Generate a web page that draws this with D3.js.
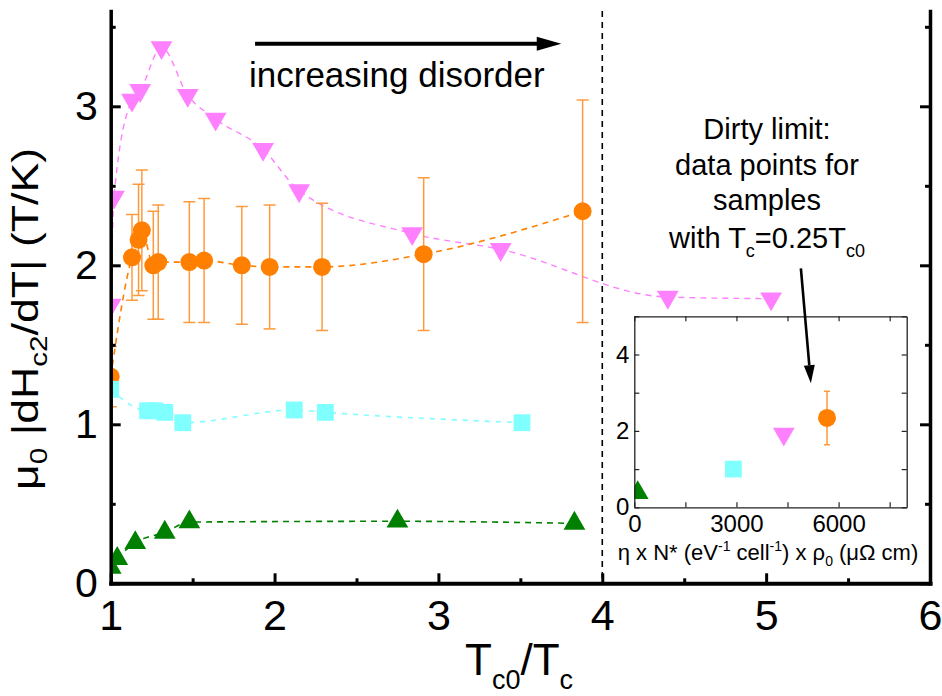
<!DOCTYPE html>
<html>
<head>
<meta charset="utf-8">
<script src="https://cdn.jsdelivr.net/npm/d3@7"></script>
<style>
  body { margin: 0; background: #fff; }
  text { font-family: "Liberation Sans", Arial, sans-serif; fill: #000; }
</style>
</head>
<body>
<svg id="chart" width="942" height="696"></svg>
<script>
// ---- data ----
// green up-triangles
const greenX = [1.00, 1.04, 1.15, 1.33, 1.48, 2.75, 3.83];
const greenY = [0.10, 0.155, 0.255, 0.32, 0.385, 0.39, 0.377];
// cyan squares
const cyanX = [1.00, 1.225, 1.27, 1.33, 1.44, 2.12, 2.31, 3.51];
const cyanY = [1.22, 1.085, 1.085, 1.075, 1.01, 1.09, 1.075, 1.01];
// magenta down-triangles
const magX = [1.00, 1.02, 1.13, 1.18, 1.31, 1.47, 1.64, 1.93, 2.15, 2.84, 3.38, 4.40, 5.03];
const magY = [1.75, 2.43, 3.04, 3.10, 3.37, 3.07, 2.92, 2.73, 2.47, 2.20, 2.10, 1.80, 1.79];
// orange circles with error bars
const orangeX = [1.00, 1.13, 1.17, 1.19, 1.26, 1.29, 1.48, 1.57, 1.80, 1.97, 2.29, 2.91, 3.88];
const orangeY = [1.30, 2.05, 2.16, 2.22, 2.00, 2.02, 2.02, 2.03, 2.00, 1.99, 1.99, 2.07, 2.34];
const orangeErr = [0.19, 0.27, 0.35, 0.38, 0.34, 0.36, 0.38, 0.39, 0.37, 0.39, 0.40, 0.48, 0.70];

// inset: one point per series (green, cyan, magenta, orange)
const insetX = [100, 2910, 4390, 5660];
const insetY = [0.38, 1.00, 1.92, 2.34];
const insetErr = [0, 0, 0, 0.70];

// axis ticks
const xMajor = [1, 2, 3, 4, 5, 6];
const xMinor = [1.5, 2.5, 3.5, 4.5, 5.5];
const yMajor = [0, 1, 2, 3];
const yMinor = [0.5, 1.5, 2.5, 3.5];
const insetXTicks = [0, 1500, 3000, 4500, 6000, 7500];
const insetXLabels = [0, 3000, 6000];
const insetYTicks = [0, 1, 2, 3, 4, 5];
const insetYLabels = [0, 2, 4];

const series = [
  { xs: magX, ys: magY, color: '#ff80ff', shape: 'down', dash: '6,5', lw: 1.4 },
  { xs: orangeX, ys: orangeY, err: orangeErr, color: '#ff8000', shape: 'circle', dash: '6,5', lw: 1.6 },
  { xs: cyanX, ys: cyanY, color: '#80ffff', shape: 'square', dash: '5,6', lw: 1.6 },
  { xs: greenX, ys: greenY, color: '#008000', shape: 'up', dash: '6,5', lw: 1.6 }
];
const insetColors = ['#008000', '#80ffff', '#ff80ff', '#ff8000'];
const insetShapes = ['up', 'square', 'down', 'circle'];

const svg = d3.select('#chart');

const x = d3.scaleLinear().domain([1, 6]).range([110.7, 930]);
const y = d3.scaleLinear().domain([0, 3.6]).range([583.3, 10.9]);

const defs = svg.append('defs');
defs.append('clipPath').attr('id', 'clipMain').append('rect')
  .attr('x', x(1)).attr('y', y(3.6))
  .attr('width', x(6) - x(1)).attr('height', y(0) - y(3.6));

function drawMarker(g, shape, cx, cy, color) {
  if (shape === 'circle') {
    g.append('circle').attr('cx', cx).attr('cy', cy).attr('r', 9).attr('fill', color);
  } else if (shape === 'square') {
    g.append('rect').attr('x', cx - 8.4).attr('y', cy - 8.4)
      .attr('width', 16.8).attr('height', 16.8).attr('fill', color);
  } else {
    g.append('path')
      .attr('d', d3.symbol(d3.symbolTriangle, 205)())
      .attr('transform', 'translate(' + cx + ',' + cy + ')' + (shape === 'down' ? ' rotate(180)' : ''))
      .attr('fill', color);
  }
}

// dashed vertical line at Tc0/Tc = 4
svg.append('line')
  .attr('x1', x(4)).attr('x2', x(4)).attr('y1', y(3.6)).attr('y2', y(0))
  .attr('stroke', '#000').attr('stroke-width', 1.6).attr('stroke-dasharray', '6,5');

const plot = svg.append('g').attr('clip-path', 'url(#clipMain)');

let line = d3.line()
  .x(d => x(d[0]))
  .y(d => y(d[1]))
  .curve(d3.curveMonotoneX);

// connecting dashed lines
series.forEach(s => {
  plot.append('path')
    .datum(s.xs.map((v, i) => [v, s.ys[i]]))
    .attr('d', line)
    .attr('fill', 'none')
    .attr('stroke', s.color)
    .attr('stroke-width', s.lw)
    .attr('stroke-dasharray', s.dash);
});

// error bars
series.filter(s => s.err).forEach(s => {
  s.xs.forEach((v, i) => {
    let g = plot.append('g').attr('stroke', '#ff9a3c').attr('stroke-width', 1.5);
    g.append('line').attr('x1', x(v)).attr('x2', x(v))
      .attr('y1', y(s.ys[i] - s.err[i])).attr('y2', y(s.ys[i] + s.err[i]));
    [s.ys[i] - s.err[i], s.ys[i] + s.err[i]].forEach(e => {
      g.append('line').attr('x1', x(v) - 6).attr('x2', x(v) + 6)
        .attr('y1', y(e)).attr('y2', y(e));
    });
  });
});

// markers
series.forEach(s => {
  s.xs.forEach((v, i) => drawMarker(plot, s.shape, x(v), y(s.ys[i]), s.color));
});

// ---- main axes ----
function styleAxis(g, width) {
  g.select('.domain').attr('stroke', '#000').attr('stroke-width', width).attr('stroke-linecap', 'square');
  g.selectAll('.tick line').attr('stroke', '#000').attr('stroke-width', 3);
}

let gx = svg.append('g').attr('transform', 'translate(0,' + y(0) + ')')
  .call(d3.axisBottom(x).tickValues(xMajor).tickSize(-10).tickSizeOuter(0).tickPadding(16)
    .tickFormat(d3.format('d')));
gx.selectAll('text').attr('font-size', 43);
styleAxis(gx, 4);
let gx2 = svg.append('g').attr('transform', 'translate(0,' + y(0) + ')')
  .call(d3.axisBottom(x).tickValues(xMinor).tickSize(-5).tickFormat(''));
gx2.select('.domain').remove();
styleAxis(gx2, 4);

let gy = svg.append('g').attr('transform', 'translate(' + x(1) + ',0)')
  .call(d3.axisLeft(y).tickValues(yMajor).tickSize(-10).tickSizeOuter(0).tickPadding(13)
    .tickFormat(d3.format('d')));
gy.selectAll('text').attr('font-size', 41);
styleAxis(gy, 3.5);
let gy2 = svg.append('g').attr('transform', 'translate(' + x(1) + ',0)')
  .call(d3.axisLeft(y).tickValues(yMinor).tickSize(-5).tickFormat(''));
gy2.select('.domain').remove();
styleAxis(gy2, 3.5);

let gr = svg.append('g').attr('transform', 'translate(' + x(6) + ',0)')
  .call(d3.axisRight(y).tickValues(yMajor).tickSize(-10).tickSizeOuter(0).tickFormat(''));
styleAxis(gr, 3.5);
let gr2 = svg.append('g').attr('transform', 'translate(' + x(6) + ',0)')
  .call(d3.axisRight(y).tickValues(yMinor).tickSize(-5).tickFormat(''));
gr2.select('.domain').remove();
styleAxis(gr2, 3.5);

// axis titles
let xl = svg.append('text').attr('x', 519).attr('y', 675).attr('text-anchor', 'middle').attr('font-size', 44);
xl.append('tspan').text('T');
xl.append('tspan').attr('font-size', 27).attr('dy', 14).text('c0');
xl.append('tspan').attr('dy', -14).text('/T');
xl.append('tspan').attr('font-size', 27).attr('dy', 14).text('c');

let yl = svg.append('text').attr('transform', 'translate(38,319) rotate(-90)')
  .attr('text-anchor', 'middle').attr('font-size', 36)
  .attr('textLength', 342).attr('lengthAdjust', 'spacingAndGlyphs');
yl.append('tspan').text('μ');
yl.append('tspan').attr('font-size', 24).attr('dy', 9).text('0');
yl.append('tspan').attr('dy', -9).text(' |dH');
yl.append('tspan').attr('font-size', 24).attr('dy', 9).text('c2');
yl.append('tspan').attr('dy', -9).text('/dT| (T/K)');

// ---- "increasing disorder" arrow ----
const arrowY = 3.394;
svg.append('line')
  .attr('x1', x(1.881)).attr('x2', x(3.62)).attr('y1', y(arrowY)).attr('y2', y(arrowY))
  .attr('stroke', '#000').attr('stroke-width', 4);
svg.append('path')
  .attr('d', 'M' + x(3.6) + ',' + (y(arrowY) - 7) + 'L' + x(3.75) + ',' + y(arrowY) +
    'L' + x(3.6) + ',' + (y(arrowY) + 7) + 'Z')
  .attr('fill', '#000');
svg.append('text').attr('x', 249).attr('y', 87).attr('font-size', 35).text('increasing disorder');

// ---- dirty-limit annotation ----
const noteLines = ['Dirty limit:', 'data points for', 'samples'];
const noteY = [139, 174.5, 210];
noteLines.forEach((t, i) => {
  svg.append('text').attr('x', 767).attr('y', noteY[i]).attr('text-anchor', 'middle')
    .attr('font-size', 29).text(t);
});
let nl = svg.append('text').attr('x', 767).attr('y', 248).attr('text-anchor', 'middle').attr('font-size', 29);
nl.append('tspan').text('with T');
nl.append('tspan').attr('font-size', 18).attr('dy', 9).text('c');
nl.append('tspan').attr('dy', -9).text('=0.25T');
nl.append('tspan').attr('font-size', 18).attr('dy', 9).text('c0');

// ---- inset ----
const ix = d3.scaleLinear().domain([0, 8000]).range([634.3, 906.7]);
const iy = d3.scaleLinear().domain([0, 5]).range([507.3, 316.3]);

defs.append('clipPath').attr('id', 'clipInset').append('rect')
  .attr('x', ix(0)).attr('y', iy(5)).attr('width', ix(8000) - ix(0)).attr('height', iy(0) - iy(5));

const inset = svg.append('g');
inset.append('rect').attr('x', ix(0)).attr('y', iy(5))
  .attr('width', ix(8000) - ix(0)).attr('height', iy(0) - iy(5)).attr('fill', '#fff');

const ip = inset.append('g').attr('clip-path', 'url(#clipInset)');
insetX.forEach((v, i) => {
  if (insetErr[i] > 0) {
    let g = ip.append('g').attr('stroke', '#ff9a3c').attr('stroke-width', 1.5);
    g.append('line').attr('x1', ix(v)).attr('x2', ix(v))
      .attr('y1', iy(insetY[i] - insetErr[i])).attr('y2', iy(insetY[i] + insetErr[i]));
    [insetY[i] - insetErr[i], insetY[i] + insetErr[i]].forEach(e => {
      g.append('line').attr('x1', ix(v) - 3).attr('x2', ix(v) + 3).attr('y1', iy(e)).attr('y2', iy(e));
    });
  }
  drawMarker(ip, insetShapes[i], ix(v), iy(insetY[i]), insetColors[i]);
});

function styleInset(g) {
  g.select('.domain').attr('stroke', '#222').attr('stroke-width', 1.3);
  g.selectAll('.tick line').attr('stroke', '#222').attr('stroke-width', 1.2);
  g.selectAll('text').attr('font-size', 24);
}
let ixb = inset.append('g').attr('transform', 'translate(0,' + iy(0) + ')')
  .call(d3.axisBottom(ix).tickValues(insetXTicks).tickSize(-5).tickSizeOuter(0).tickPadding(8)
    .tickFormat(d => insetXLabels.includes(d) ? d : ''));
styleInset(ixb);
let ixt = inset.append('g').attr('transform', 'translate(0,' + iy(5) + ')')
  .call(d3.axisTop(ix).tickValues(insetXTicks).tickSize(-5).tickSizeOuter(0).tickFormat(''));
styleInset(ixt);
let iyl = inset.append('g').attr('transform', 'translate(' + ix(0) + ',0)')
  .call(d3.axisLeft(iy).tickValues(insetYTicks).tickSize(-5).tickSizeOuter(0).tickPadding(5)
    .tickFormat(d => insetYLabels.includes(d) ? d : ''));
styleInset(iyl);
let iyr = inset.append('g').attr('transform', 'translate(' + ix(8000) + ',0)')
  .call(d3.axisRight(iy).tickValues(insetYTicks).tickSize(-5).tickSizeOuter(0).tickFormat(''));
styleInset(iyr);

let il = svg.append('text').attr('x', 768).attr('y', 560).attr('text-anchor', 'middle').attr('font-size', 22);
il.append('tspan').text('η x N* (eV');
il.append('tspan').attr('font-size', 14).attr('dy', -9).text('-1');
il.append('tspan').attr('dy', 9).text(' cell');
il.append('tspan').attr('font-size', 14).attr('dy', -9).text('-1');
il.append('tspan').attr('dy', 9).text(') x ρ');
il.append('tspan').attr('font-size', 14).attr('dy', 6).text('0');
il.append('tspan').attr('dy', -6).text(' (μΩ cm)');

// arrow from the note into the inset (drawn on top of the inset)
const a0 = [x(5.212), y(1.98)], a1 = [x(5.273), y(1.258)];
const len = Math.hypot(a1[0] - a0[0], a1[1] - a0[1]);
const ux = (a1[0] - a0[0]) / len, uy = (a1[1] - a0[1]) / len;
const bx = a1[0] - 18 * ux, by = a1[1] - 18 * uy;
svg.append('line').attr('x1', a0[0]).attr('y1', a0[1]).attr('x2', bx).attr('y2', by)
  .attr('stroke', '#000').attr('stroke-width', 2.6);
svg.append('path')
  .attr('d', 'M' + a1[0] + ',' + a1[1] + 'L' + (bx - 5.5 * uy) + ',' + (by + 5.5 * ux) +
    'L' + (bx + 5.5 * uy) + ',' + (by - 5.5 * ux) + 'Z')
  .attr('fill', '#000');
</script>
</body>
</html>
